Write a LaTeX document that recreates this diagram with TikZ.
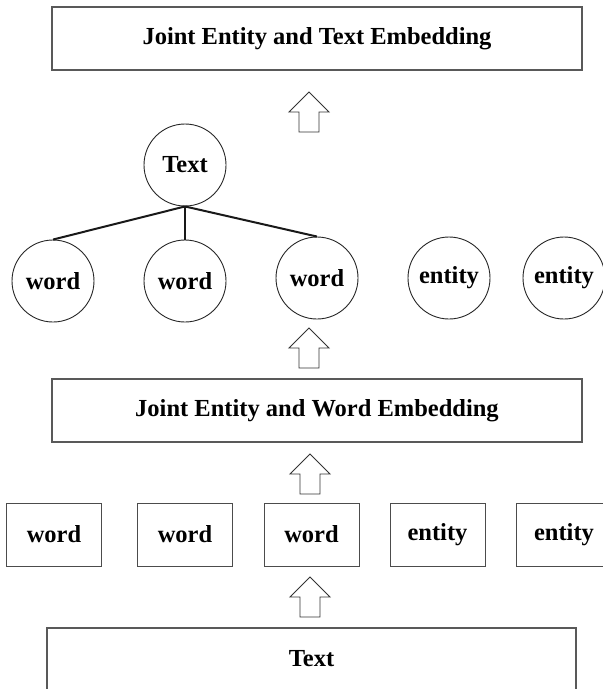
\documentclass[tikz,border=0pt]{standalone}
\usepackage{fontspec}
\setmainfont{Liberation Serif}
\begin{document}
\begin{tikzpicture}[x=1pt,y=-1pt,
  lbl/.style={font=\fontsize{24.5}{29}\selectfont\bfseries, text=black},
  widebox/.style={draw=black!65, line width=1.2pt, minimum width=530pt, minimum height=63pt, inner sep=0pt, lbl},
  sqbox/.style={draw=black!70, line width=1pt, minimum width=95pt, minimum height=63pt, inner sep=0pt, lbl},
  circnode/.style={draw=black!85, line width=0.9pt, circle, minimum size=82pt, inner sep=0pt, lbl},
  blockarrow/.style={draw=black!80, line width=0.9pt, line join=miter, fill=white},
  treeedge/.style={draw=black!90, line width=2pt},
  uparrow/.pic={\draw[blockarrow] (0,0) -- (20,20) -- (10,20) -- (10,40) -- (-10,40) -- (-10,20) -- (-20,20) -- cycle;}]
\useasboundingbox (0,0) rectangle (603,689);
% top box
\node[widebox] (top) at (317,38.5) {Joint Entity and Text Embedding};
\pic at (309,92) {uparrow};
% text circle and word/entity circles
\node[circnode] (T) at (185,165) {Text};
\node[circnode] (cw1) at (53,281) {word};
\node[circnode] (cw2) at (185,281) {word};
\node[circnode] (cw3) at (317,278) {word};
\node[circnode] (ce1) at (449,278) {entity};
\node[circnode] (ce2) at (564,278) {entity};
\draw[treeedge] (T.south) -- (cw1.north);
\draw[treeedge] (T.south) -- (cw2.north);
\draw[treeedge] (T.south) -- (cw3.north);
\pic at (309,328) {uparrow};
% middle box
\node[widebox] (mid) at (317,410.5) {Joint Entity and Word Embedding};
\pic at (310,454) {uparrow};
% square boxes
\node[sqbox] (bw1) at (54,534.5) {word};
\node[sqbox] (bw2) at (185,534.5) {word};
\node[sqbox] (bw3) at (311.5,534.5) {word};
\node[sqbox] (be1) at (437.5,534.5) {entity};
\node[sqbox] (be2) at (564,534.5) {entity};
\pic at (310,577) {uparrow};
% bottom text box
\node[widebox, minimum width=529pt, minimum height=62pt] (txt) at (311.5,659) {Text};
\end{tikzpicture}
\end{document}
